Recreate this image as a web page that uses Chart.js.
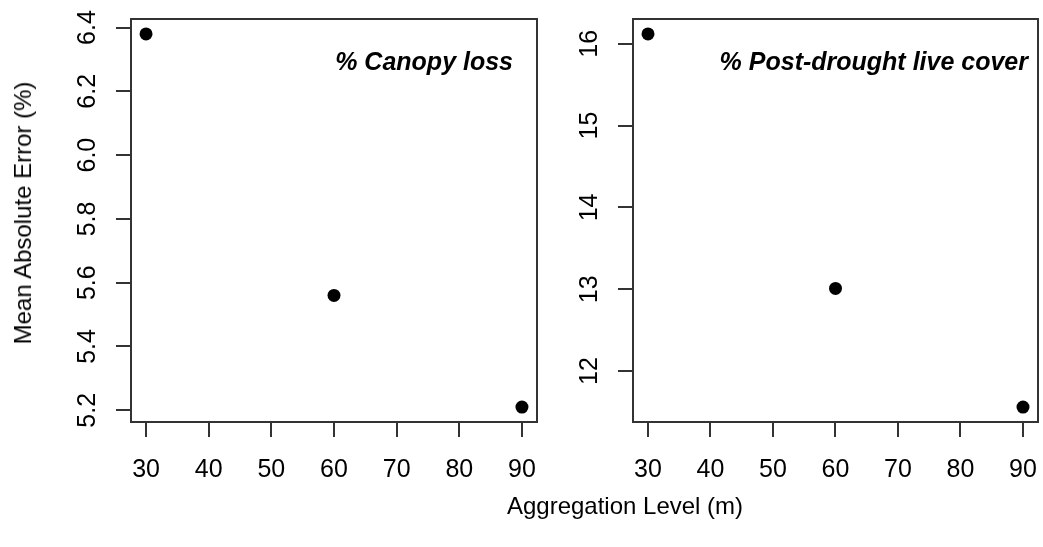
<!DOCTYPE html>
<html>
<head>
<meta charset="utf-8">
<script src="https://cdn.jsdelivr.net/npm/chart.js@4/dist/chart.umd.min.js"></script>
<style>
  html, body { margin: 0; padding: 0; background: #fff; }
  #wrap { position: relative; width: 1043px; height: 547px; overflow: hidden; font-family: "Liberation Sans", Arial, sans-serif; color: #000; }
  canvas { position: absolute; top: 0; }
  #c1 { left: 0; }
  #c2 { left: 560px; }
  .axis-title { position: absolute; font-size: 24px; white-space: nowrap; line-height: 1; }
  #ytitle { left: 23px; top: 213px; transform: translate(-50%, -50%) rotate(-90deg); }
  #xtitle { left: 625px; top: 506px; transform: translate(-50%, -50%); }
</style>
</head>
<body>
<div id="wrap">
  <canvas id="c1" width="560" height="500"></canvas>
  <canvas id="c2" width="530" height="500"></canvas>
  <div id="ytitle" class="axis-title">Mean Absolute Error (%)</div>
  <div id="xtitle" class="axis-title">Aggregation Level (m)</div>
</div>
<script>
const aggLevels = [30, 60, 90];
const canopyLossMAE = [6.38, 5.56, 5.21];
const liveCoverMAE = [16.12, 13.01, 11.56];

const xTicks = [30, 40, 50, 60, 70, 80, 90];
const canopyTicks = [5.2, 5.4, 5.6, 5.8, 6.0, 6.2, 6.4];
const coverTicks = [12, 13, 14, 15, 16];

const FONT = '"Liberation Sans", Arial, sans-serif';
const LINE = '#333';

// pad a range by 4% on each side, like R's default axis extension
function padRange(vals) {
  const lo = Math.min(...vals), hi = Math.max(...vals);
  const d = (hi - lo) * 0.04;
  return [lo - d, hi + d];
}

// frame, rotated y tick labels and the italic panel heading
function makeDecor(title, inset, fmt) {
  return {
    id: 'panelDecor',
    afterDraw(chart) {
      const { ctx, chartArea: a, scales } = chart;
      ctx.save();
      ctx.strokeStyle = LINE;
      ctx.lineWidth = 2;
      ctx.strokeRect(a.left, a.top, a.right - a.left, a.bottom - a.top);

      ctx.fillStyle = '#000';
      ctx.font = '25px ' + FONT;
      ctx.textAlign = 'center';
      ctx.textBaseline = 'middle';
      scales.y.ticks.forEach(t => {
        const y = scales.y.getPixelForValue(t.value);
        ctx.save();
        ctx.translate(a.left - 43, y);
        ctx.rotate(-Math.PI / 2);
        ctx.fillText(fmt(t.value), 0, 0);
        ctx.restore();
      });

      ctx.font = 'italic bold 25px ' + FONT;
      ctx.textAlign = 'right';
      ctx.textBaseline = 'alphabetic';
      ctx.fillText(title, a.right - inset, 70);
      ctx.restore();
    }
  };
}

function makePanel(canvasId, values, yTicks, yAxisWidth, rightPad, title, inset, fmt) {
  const [xMin, xMax] = padRange(aggLevels);
  const [yMin, yMax] = padRange(values);
  return new Chart(document.getElementById(canvasId), {
    type: 'scatter',
    data: {
      datasets: [{
        data: aggLevels.map((x, i) => ({ x: x, y: values[i] })),
        backgroundColor: '#000',
        borderWidth: 0,
        pointRadius: 6.5
      }]
    },
    options: {
      responsive: false,
      animation: false,
      devicePixelRatio: 1,
      layout: { padding: { left: 0, top: 19, right: rightPad, bottom: 0 } },
      plugins: { legend: { display: false }, tooltip: { enabled: false } },
      scales: {
        x: {
          type: 'linear',
          min: xMin,
          max: xMax,
          afterBuildTicks: s => { s.ticks = xTicks.map(v => ({ value: v })); },
          afterFit: s => { s.height = 78; },
          border: { display: false },
          grid: { drawOnChartArea: false, tickLength: 15, color: LINE, lineWidth: 2 },
          ticks: { color: '#000', font: { size: 25, family: FONT }, padding: 18, maxRotation: 0 }
        },
        y: {
          type: 'linear',
          min: yMin,
          max: yMax,
          afterBuildTicks: s => { s.ticks = yTicks.map(v => ({ value: v })); },
          afterFit: s => { s.width = yAxisWidth; },
          border: { display: false },
          grid: { drawOnChartArea: false, tickLength: 15, color: LINE, lineWidth: 2 },
          ticks: { display: false }
        }
      }
    },
    plugins: [makeDecor(title, inset, fmt)]
  });
}

makePanel('c1', canopyLossMAE, canopyTicks, 131, 23, '% Canopy loss', 24, v => v.toFixed(1));
makePanel('c2', liveCoverMAE, coverTicks, 73, 52, '% Post-drought live cover', 10, v => String(v));
</script>
</body>
</html>
